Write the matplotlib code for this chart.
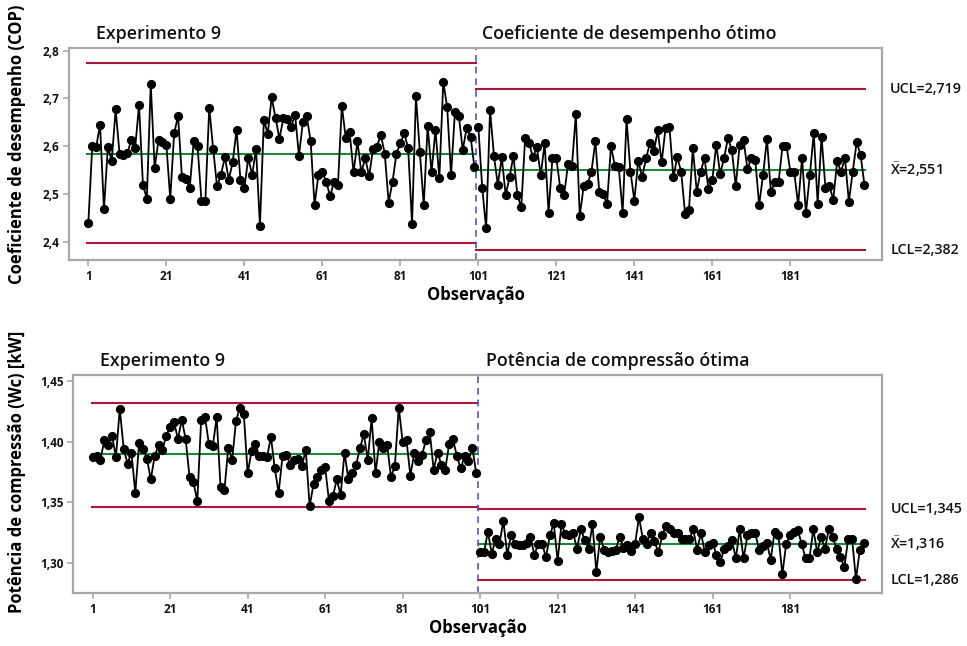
import matplotlib
matplotlib.use("Agg")
import matplotlib.pyplot as plt
import matplotlib.transforms as mtransforms
import numpy as np

plt.rcParams['font.family'] = ['Open Sans', 'DejaVu Sans']
plt.rcParams['mathtext.fontset'] = 'custom'
plt.rcParams['mathtext.rm'] = 'Open Sans'
plt.rcParams['mathtext.bf'] = 'Open Sans:semibold'

# ---------------- data ----------------
cop_exp9 = [2.440, 2.600, 2.598, 2.645, 2.468, 2.598, 2.570, 2.677, 2.584, 2.582,
            2.585, 2.613, 2.596, 2.686, 2.519, 2.490, 2.730, 2.555, 2.613, 2.608,
            2.603, 2.490, 2.627, 2.663, 2.535, 2.531, 2.513, 2.610, 2.600, 2.486,
            2.486, 2.681, 2.594, 2.516, 2.540, 2.577, 2.530, 2.566, 2.634, 2.530,
            2.512, 2.575, 2.540, 2.594, 2.433, 2.655, 2.626, 2.702, 2.659, 2.616,
            2.658, 2.656, 2.641, 2.666, 2.580, 2.650, 2.663, 2.610, 2.477, 2.540,
            2.545, 2.526, 2.495, 2.526, 2.519, 2.684, 2.617, 2.629, 2.545, 2.610,
            2.545, 2.575, 2.537, 2.595, 2.599, 2.624, 2.584, 2.482, 2.526, 2.584,
            2.606, 2.627, 2.596, 2.437, 2.705, 2.587, 2.476, 2.643, 2.545, 2.634,
            2.533, 2.735, 2.682, 2.540, 2.672, 2.663, 2.592, 2.638, 2.620, 2.556]
cop_opt = [2.640, 2.512, 2.428, 2.676, 2.580, 2.519, 2.577, 2.498, 2.535, 2.580,
           2.498, 2.472, 2.617, 2.606, 2.577, 2.598, 2.540, 2.606, 2.461, 2.575,
           2.575, 2.512, 2.498, 2.563, 2.559, 2.667, 2.454, 2.516, 2.521, 2.547,
           2.610, 2.505, 2.500, 2.479, 2.600, 2.559, 2.556, 2.461, 2.656, 2.547,
           2.486, 2.570, 2.535, 2.575, 2.606, 2.589, 2.633, 2.566, 2.638, 2.640,
           2.535, 2.577, 2.547, 2.459, 2.467, 2.596, 2.505, 2.547, 2.575, 2.510,
           2.530, 2.603, 2.542, 2.575, 2.617, 2.592, 2.516, 2.603, 2.613, 2.552,
           2.575, 2.571, 2.477, 2.540, 2.615, 2.505, 2.524, 2.526, 2.601, 2.601,
           2.547, 2.545, 2.477, 2.575, 2.460, 2.540, 2.627, 2.480, 2.620, 2.512,
           2.517, 2.488, 2.568, 2.547, 2.575, 2.484, 2.547, 2.608, 2.582, 2.519]
wc_exp9 = [1.387, 1.388, 1.385, 1.401, 1.397, 1.405, 1.387, 1.427, 1.394, 1.382,
           1.391, 1.358, 1.399, 1.394, 1.386, 1.369, 1.388, 1.397, 1.393, 1.405,
           1.412, 1.416, 1.402, 1.418, 1.402, 1.371, 1.367, 1.351, 1.418, 1.420,
           1.398, 1.396, 1.420, 1.363, 1.360, 1.395, 1.385, 1.417, 1.428, 1.423,
           1.374, 1.392, 1.398, 1.388, 1.388, 1.387, 1.404, 1.378, 1.358, 1.388,
           1.389, 1.381, 1.385, 1.386, 1.380, 1.393, 1.347, 1.365, 1.371, 1.377,
           1.379, 1.351, 1.355, 1.369, 1.356, 1.391, 1.369, 1.374, 1.381, 1.395,
           1.406, 1.385, 1.419, 1.374, 1.400, 1.395, 1.397, 1.371, 1.380, 1.428,
           1.400, 1.401, 1.372, 1.391, 1.384, 1.389, 1.401, 1.408, 1.377, 1.391,
           1.381, 1.377, 1.398, 1.402, 1.388, 1.378, 1.388, 1.384, 1.395, 1.374]
wc_opt = [1.309, 1.309, 1.326, 1.308, 1.320, 1.316, 1.335, 1.307, 1.323, 1.316,
          1.315, 1.315, 1.317, 1.322, 1.307, 1.316, 1.316, 1.305, 1.323, 1.333,
          1.302, 1.332, 1.324, 1.323, 1.325, 1.312, 1.328, 1.319, 1.312, 1.332,
          1.293, 1.322, 1.311, 1.309, 1.310, 1.311, 1.322, 1.313, 1.315, 1.310,
          1.316, 1.338, 1.320, 1.316, 1.325, 1.318, 1.309, 1.323, 1.331, 1.328,
          1.325, 1.325, 1.320, 1.320, 1.320, 1.328, 1.311, 1.325, 1.309, 1.315,
          1.317, 1.307, 1.301, 1.312, 1.314, 1.319, 1.304, 1.328, 1.304, 1.323,
          1.325, 1.325, 1.311, 1.314, 1.317, 1.303, 1.326, 1.323, 1.291, 1.316,
          1.323, 1.326, 1.327, 1.316, 1.304, 1.304, 1.328, 1.309, 1.322, 1.312,
          1.328, 1.322, 1.312, 1.305, 1.297, 1.320, 1.320, 1.287, 1.311, 1.317]

# control limits per stage: (LCL, CL, UCL)
cop_limits_exp9 = (2.398, 2.584, 2.774)
cop_limits_opt = (2.382, 2.551, 2.719)
wc_limits_exp9 = (1.346, 1.390, 1.4315)
wc_limits_opt = (1.286, 1.316, 1.345)

cop_labels = ["UCL=2,719", r"$\mathbf{\bar{X}}$=2,551", "LCL=2,382"]
wc_labels = ["UCL=1,345", r"$\mathbf{\bar{X}}$=1,316", "LCL=1,286"]

x_ticks = [1, 21, 41, 61, 81, 101, 121, 141, 161, 181]
cop_yticks = [2.4, 2.5, 2.6, 2.7, 2.8]
cop_yticklabels = ["2,4", "2,5", "2,6", "2,7", "2,8"]
wc_yticks = [1.30, 1.35, 1.40, 1.45]
wc_yticklabels = ["1,30", "1,35", "1,40", "1,45"]

# ---------------- style ----------------
RED = '#a8173c'
GREEN = '#17883a'
DASH = '#5a5aa8'
FRAME = '#a8a8a8'

fig = plt.figure(figsize=(9.67, 6.46), dpi=100)
ax1 = fig.add_axes([0.0714, 0.5975, 0.8407, 0.3282])
ax2 = fig.add_axes([0.0758, 0.0816, 0.8366, 0.3379])


def draw(ax, s1, s2, lim1, lim2, labels, yticks, yticklabels, ylim, xlim,
         title1, title2, t2x):
    n1 = len(s1)
    n2 = len(s2)
    obs1 = np.arange(1, n1 + 1)
    obs2 = np.arange(n1 + 1, n1 + n2 + 1)
    b = n1 + 0.5
    # control lines
    for v, c in zip(lim1, [RED, GREEN, RED]):
        ax.plot([0.75, b], [v, v], color=c, lw=1.5, zorder=2)
    for v, c in zip(lim2, [RED, GREEN, RED]):
        ax.plot([b, n1 + n2 + 0.25], [v, v], color=c, lw=1.5, zorder=2)
    ax.axvline(b, color=DASH, lw=1.2, ls=(0, (4, 3)), zorder=2)
    # data: stages are connected separately
    ax.plot(obs1, s1, color='black', lw=1.3, marker='o', ms=5.6, zorder=3)
    ax.plot(obs2, s2, color='black', lw=1.3, marker='o', ms=5.6, zorder=3)
    ax.set_xlim(*xlim)
    ax.set_ylim(*ylim)
    ax.set_xticks(x_ticks)
    ax.set_xticklabels([str(t) for t in x_ticks], fontweight='bold', fontsize=8.5)
    ax.set_yticks(yticks)
    ax.set_yticklabels(yticklabels, fontweight='bold', fontsize=8.5)
    ax.tick_params(axis='both', direction='out', length=4, width=1.2,
                   color=FRAME, pad=3, labelcolor='#111111')
    for sp in ax.spines.values():
        sp.set_color(FRAME)
        sp.set_linewidth(1.6)
    ax.set_xlabel('Observação', fontweight='bold', fontsize=12, labelpad=2)
    # right labels
    tr = mtransforms.blended_transform_factory(ax.transAxes, ax.transData)
    for v, lab in zip([lim2[2], lim2[1], lim2[0]], labels):
        ax.text(1.01, v, lab, transform=tr, ha='left', va='center',
                fontsize=10.3, fontweight='semibold', color='#111111')
    # stage titles
    tr2 = mtransforms.blended_transform_factory(ax.transData, ax.transAxes)
    ax.text(3.0, 1.025, title1, transform=tr2, ha='left', va='bottom',
            fontsize=12.8, fontweight='semibold', color='#111111')
    ax.text(t2x, 1.025, title2, transform=tr2, ha='left', va='bottom',
            fontsize=12.8, fontweight='semibold', color='#111111')


draw(ax1, cop_exp9, cop_opt, cop_limits_exp9, cop_limits_opt, cop_labels,
     cop_yticks, cop_yticklabels, (2.3617, 2.8056), (-3.95, 204.5),
     'Experimento 9', 'Coeficiente de desempenho ótimo', 102.0)
draw(ax2, wc_exp9, wc_opt, wc_limits_exp9, wc_limits_opt, wc_labels,
     wc_yticks, wc_yticklabels, (1.2754, 1.4547), (-4.0, 204.8),
     'Experimento 9', 'Potência de compressão ótima', 102.5)

fig.text(17 / 967, 0.776, 'Coeficiente de desempenho (COP)', rotation=90,
         ha='center', va='center', fontweight='bold', fontsize=12)
fig.text(17 / 967, 0.269, 'Potência de compressão (Wc) [kW]', rotation=90,
         ha='center', va='center', fontweight='bold', fontsize=12)

fig.savefig('out.png', dpi=100)
